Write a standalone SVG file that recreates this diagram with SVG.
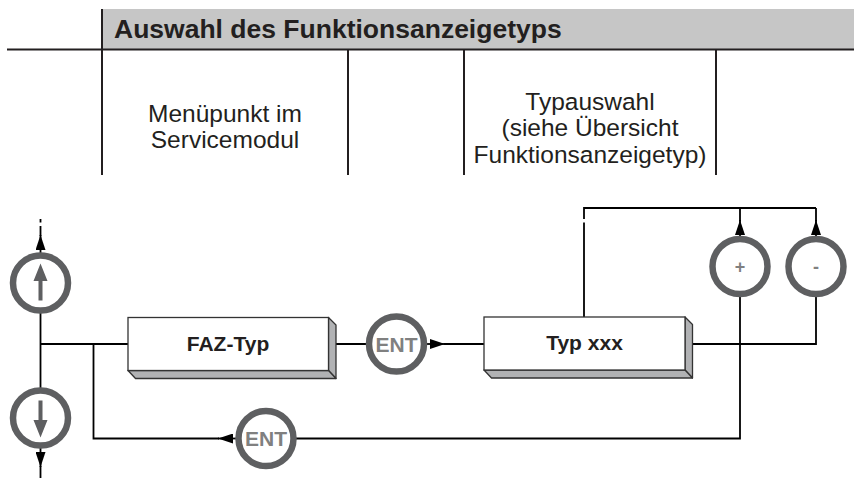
<svg xmlns="http://www.w3.org/2000/svg" width="854" height="478" viewBox="0 0 854 478">
<style>
.t{font-family:"Liberation Sans",Arial,sans-serif;fill:#231f20}
.b{font-weight:bold}
.c{text-anchor:middle}
.tl{stroke:#231f20;stroke-width:2;fill:none}
.ln{stroke:#000;stroke-width:1.8;fill:none}
.ring{fill:#fff;stroke:#5e5f61;stroke-width:6.5}
.gl{font-family:"Liberation Sans",Arial,sans-serif;font-weight:bold;fill:#808080;text-anchor:middle}
.ga{fill:#5e5f61}
.front{fill:#fff;stroke:#333;stroke-width:1.3}
.side{fill:#b1b2b4;stroke:#333;stroke-width:1.3;stroke-linejoin:round}
</style>
<defs>
<marker id="ah" markerUnits="userSpaceOnUse" markerWidth="15" markerHeight="10" refX="15" refY="5" orient="auto" viewBox="0 0 15 10">
<path d="M0,0 L15,5 L0,10 z" fill="#000"/>
</marker>
</defs>

<g id="header">
<rect x="102" y="9" width="752" height="40" fill="#c6c6c6"/>
<line class="tl" x1="7" y1="49.5" x2="854" y2="49.5"/>
<line class="tl" x1="102" y1="9" x2="102" y2="175"/>
<line class="tl" x1="348" y1="50" x2="348" y2="175"/>
<line class="tl" x1="464" y1="50" x2="464" y2="175"/>
<line class="tl" x1="716" y1="50" x2="716" y2="175"/>
<text class="t b" x="114" y="37.5" font-size="26.5">Auswahl des Funktionsanzeigetyps</text>
<text class="t c" x="225" y="122" font-size="24.5">Menüpunkt im</text>
<text class="t c" x="225" y="148" font-size="24.5">Servicemodul</text>
<text class="t c" x="590" y="109.5" font-size="24.5">Typauswahl</text>
<text class="t c" x="590" y="136" font-size="24.5">(siehe Übersicht</text>
<text class="t c" x="590" y="162.5" font-size="24.5">Funktionsanzeigetyp)</text>
</g>

<g id="connectors">
<line class="ln" x1="40.5" y1="219" x2="40.5" y2="222.5"/>
<line class="ln" x1="40.5" y1="226" x2="40.5" y2="236"/>
<path class="ln" d="M40.5,254 L40.5,235" marker-end="url(#ah)"/>
<line class="ln" x1="40.5" y1="312" x2="40.5" y2="390"/>
<path class="ln" d="M40.5,447 L40.5,467" marker-end="url(#ah)"/>
<line class="ln" x1="40.5" y1="466" x2="40.5" y2="478"/>
<line class="ln" x1="40.5" y1="344" x2="130" y2="344"/>
<polyline class="ln" points="93.5,344 93.5,438.5 219,438.5"/>
<path class="ln" d="M238,438.5 L218,438.5" marker-end="url(#ah)"/>
<line class="ln" x1="330" y1="344" x2="370" y2="344"/>
<path class="ln" d="M424,344 L445,344" marker-end="url(#ah)"/>
<line class="ln" x1="444" y1="344" x2="486" y2="344"/>
<line class="ln" x1="584" y1="319" x2="584" y2="222.5"/>
<line class="ln" x1="584" y1="219" x2="584" y2="207"/>
<polyline class="ln" points="584,208 816,208"/>
<line class="ln" x1="740" y1="208" x2="740" y2="221"/>
<line class="ln" x1="816" y1="208" x2="816" y2="221"/>
<path class="ln" d="M740,238 L740,220" marker-end="url(#ah)"/>
<path class="ln" d="M816,238 L816,220" marker-end="url(#ah)"/>
<polyline class="ln" points="740,295 740,438.5 294,438.5"/>
<polyline class="ln" points="816,295 816,344 688,344"/>
</g>

<g id="btn-up">
<circle class="ring" cx="40.5" cy="283" r="27.5"/>
<path class="ga" d="M40.5,263.5 L47.5,281 L42.5,281 L42.5,300.5 L38.5,300.5 L38.5,281 L33.5,281 z"/>
</g>
<g id="btn-down">
<circle class="ring" cx="40.5" cy="418" r="27.5"/>
<path class="ga" d="M40.5,437.5 L47.5,420 L42.5,420 L42.5,400.5 L38.5,400.5 L38.5,420 L33.5,420 z"/>
</g>

<g id="box-faz">
<polygon class="side" points="328.5,317.5 336,325 336,378.5 328.5,370.5"/>
<polygon class="side" points="128,370.5 135.5,378.5 336,378.5 328.5,370.5"/>
<rect class="front" x="128" y="317.5" width="200.5" height="53"/>
<text class="t b c" x="228" y="350.5" font-size="21">FAZ-Typ</text>
</g>

<g id="btn-ent1">
<circle class="ring" cx="396.5" cy="344" r="27.5"/>
<text class="gl" x="396.5" y="351.5" font-size="21">ENT</text>
</g>

<g id="box-typ">
<polygon class="side" points="685,317 692.5,324.5 692.5,378 685,370"/>
<polygon class="side" points="484,370 491.5,378 692.5,378 685,370"/>
<rect class="front" x="484" y="317" width="201" height="53"/>
<text class="t b c" x="584.5" y="350" font-size="21">Typ xxx</text>
</g>

<g id="btn-plus">
<circle class="ring" cx="740" cy="266.5" r="27.5"/>
<text class="gl" x="740" y="273" font-size="18">+</text>
</g>
<g id="btn-minus">
<circle class="ring" cx="816" cy="266.5" r="27.5"/>
<text class="gl" x="816" y="273" font-size="18">-</text>
</g>

<g id="btn-ent2">
<circle class="ring" cx="266" cy="438.5" r="27.5"/>
<text class="gl" x="266" y="446" font-size="21">ENT</text>
</g>
</svg>
